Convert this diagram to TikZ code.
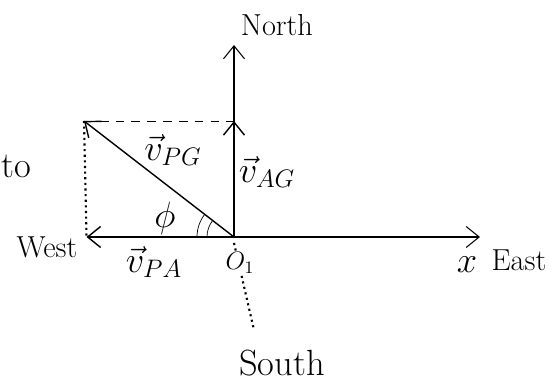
\documentclass[tikz,border=0pt]{standalone}
\usepackage{amsmath, amssymb}
\usepackage{tikz}
\usetikzlibrary{arrows.meta}

\tikzset{
    vlabel/.style={font=\huge},
    axislabel/.style={font=\LARGE},
    guide/.style={thin, dashed, dash pattern=on 5pt off 4pt},
    dotline/.style={dotted, line width=1.2pt},
}

\begin{document}
\begin{tikzpicture}[>={Straight Barb[length=2.6mm, width=4.2mm]}, thick]
    \useasboundingbox (-4.68,-2.94) rectangle (6.40,4.74);
    % Points
    \coordinate (O) at (0,0);
    \coordinate (P) at (-3.0,2.32);
    \coordinate (A) at (0,2.32);
    \coordinate (W) at (-2.95,0);
    \coordinate (N) at (0,3.84);
    \coordinate (E) at (4.92,0);
    \coordinate (S0) at (0,-0.12);
    \coordinate (S) at (0.4,-1.86);
    % Axes
    \draw[->, semithick] (O) -- (N);
    \draw[->, semithick] (O) -- (E);
    \draw[dotline] (S0) -- (S);
    % Guide lines
    \draw[guide] (P) -- (A);
    \draw[dotline] (P) -- (W);
    % Velocity vectors
    \draw[->] (O) -- (A);
    \draw[->] (O) -- (W);
    \draw[->] (O) -- (P);
    % Angle phi
    \draw[thin] (142:0.54) arc (142:180:0.54);
    \draw[thin] (142:0.74) arc (142:180:0.74);
    \node[font=\huge] (phi) at (-1.38,0.38) {$\phi$};
    % Labels
    \node[vlabel] (vPG) at (-1.22,1.74) {$\vec{v}_{PG}$};
    \node[vlabel] (vAG) at (0.66,1.30) {$\vec{v}_{AG}$};
    \node[vlabel] (vPA) at (-1.60,-0.50) {$\vec{v}_{PA}$};
    \node[font=\Large, fill=white, inner sep=1pt] (Olab) at (0.12,-0.52) {$O_1$};
    \node[axislabel] (north) at (0.86,4.24) {North};
    \node[axislabel] (east) at (5.70,-0.46) {East};
    \node[font=\huge] (xlab) at (4.66,-0.56) {$x$};
    \node[font=\huge] (south) at (0.96,-2.52) {South};
    \node[font=\LARGE] (west) at (-3.74,-0.20) {West};
    \node[font=\huge] (to) at (-4.36,1.42) {to};
\end{tikzpicture}
\end{document}
